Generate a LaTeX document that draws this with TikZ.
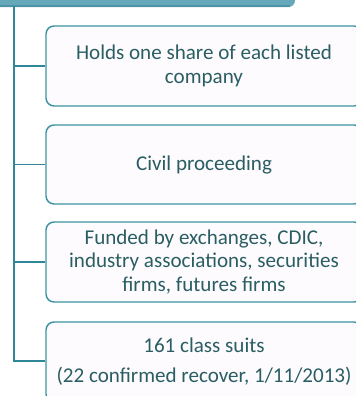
\documentclass[tikz,border=0pt]{standalone}
\usepackage{fontspec}
\setmainfont{Carlito}
\definecolor{barteal}{HTML}{64A8BA}
\definecolor{bardark}{HTML}{4E94A8}
\definecolor{lineteal}{HTML}{2E8696}
\definecolor{boxedge}{HTML}{3C93A3}
\definecolor{boxfill}{HTML}{FDFBFE}
\definecolor{txt}{HTML}{2A5E63}
\begin{document}
\begin{tikzpicture}[x=0.75pt,y=-0.75pt,
  itembox/.style={draw=boxedge, line width=1.1pt, fill=boxfill, rounded corners=6pt,
    minimum width=237pt, minimum height=60pt, inner sep=0pt, text=txt, align=center,
    font=\fontsize{15.8}{17.6}\selectfont},
  conn/.style={draw=lineteal, line width=1.1pt}]
\useasboundingbox (0,0) rectangle (356,396);
\begin{scope}
\clip (0,0) rectangle (356,396);
\fill[barteal, rounded corners=5pt] (-20,-20) rectangle (295,7);
\fill[bardark] (0,5) rectangle (290,7);
\node[itembox] (b1) at (204,66) {Holds one share of each listed\\company};
\node[itembox, minimum height=59.25pt] (b2) at (204,164.5) {Civil proceeding};
\node[itembox] (b3) at (204,262) {Funded by exchanges, CDIC,\\industry associations, securities\\firms, futures firms};
\node[itembox] (b4) at (204,362) {161 class suits\\[5pt](22 confirmed recover, 1/11/2013)};
\coordinate (top) at (14,6);
\coordinate (bot) at (14,361);
\draw[conn] (top) -- (bot) -- (b4.west |- bot);
\draw[conn] (top |- b1.west) -- (b1.west);
\draw[conn] (top |- b2.west) -- (b2.west);
\draw[conn] (top |- b3.west) -- (b3.west);
\end{scope}
\end{tikzpicture}
\end{document}
